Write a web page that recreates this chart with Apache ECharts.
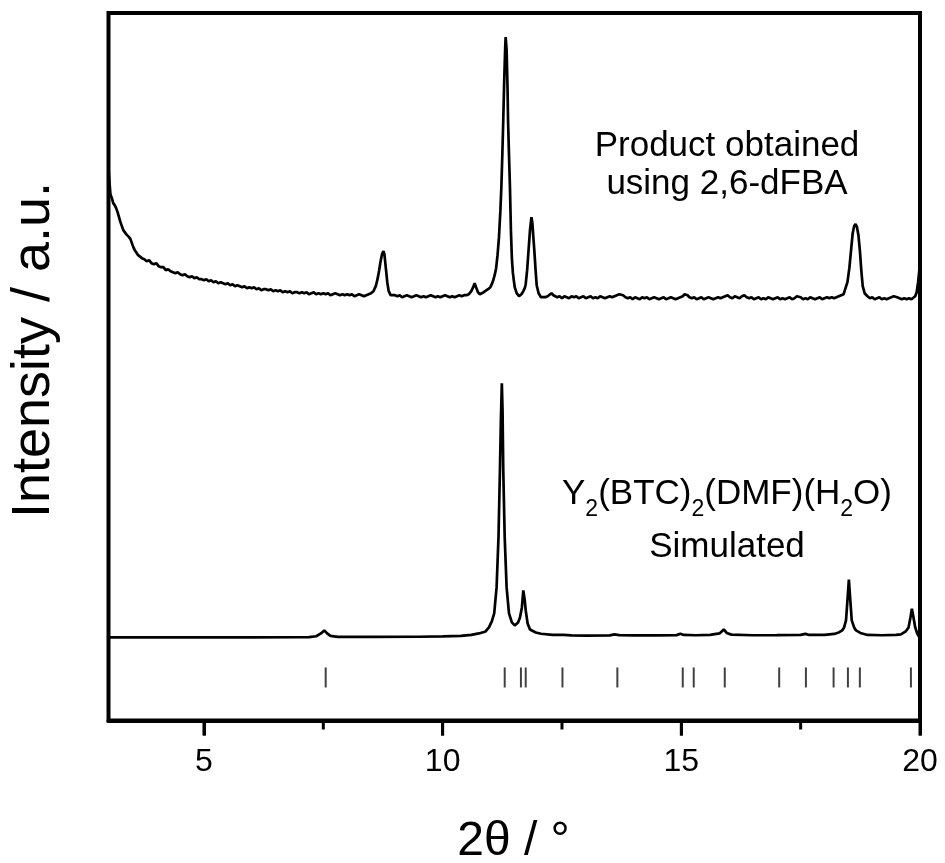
<!DOCTYPE html>
<html>
<head>
<meta charset="utf-8">
<script src="https://cdn.jsdelivr.net/npm/echarts@6/dist/echarts.min.js"></script>
<style>
  html, body { margin: 0; padding: 0; background: #fff; }
  #chart { width: 945px; height: 863px; }
</style>
</head>
<body>
<div id="chart"></div>
<script>
// Measured powder pattern (2θ in degrees, intensity in arbitrary units, offset upwards)
const measuredPattern = [
  [3.00,552],[3.02,538],[3.04,526],[3.07,522],[3.10,517],[3.13,515],[3.16,512],[3.19,508],[3.22,503],[3.25,498],
  [3.28,494],[3.31,490],[3.34,488],[3.37,486],[3.40,485],[3.43,483],[3.46,481],[3.49,477],[3.52,473],[3.55,470],
  [3.58,468],[3.62,465],[3.66,464],[3.70,462],[3.75,461],[3.80,459],[3.85,460],[3.90,457],[3.95,456],[4.00,457],
  [4.05,454],[4.10,453],[4.15,453],[4.20,450],[4.25,451],[4.30,449],[4.35,448],[4.40,447],[4.45,448],[4.50,446],
  [4.55,445],[4.60,446],[4.65,444],[4.70,443],[4.75,444],[4.80,442],[4.85,443],[4.90,441],[4.95,441],[5.00,440],
  [5.05,441],[5.10,439],[5.15,440],[5.20,438],[5.25,439],[5.30,437],[5.35,438],[5.40,437],[5.45,436],[5.50,437],
  [5.55,435],[5.60,436],[5.65,434],[5.70,435],[5.75,434],[5.80,433],[5.85,434],[5.90,432],[5.95,433],[6.00,432],
  [6.05,433],[6.10,431],[6.15,432],[6.20,430],[6.25,431],[6.30,431],[6.35,430],[6.40,431],[6.45,429],[6.50,430],
  [6.55,429],[6.60,430],[6.65,428],[6.70,429],[6.75,428],[6.80,429],[6.85,427],[6.90,428],[6.95,428],[7.00,427],
  [7.05,428],[7.10,427],[7.15,428],[7.20,426],[7.25,427],[7.30,428],[7.35,426],[7.40,427],[7.45,426],[7.50,427],
  [7.55,426],[7.60,427],[7.65,425],[7.70,426],[7.75,427],[7.80,426],[7.85,425],[7.90,426],[7.95,425],[8.00,426],
  [8.05,425],[8.10,426],[8.15,424],[8.20,425],[8.25,426],[8.30,425],[8.35,424],[8.40,425],[8.45,426],[8.50,427],
  [8.55,429],[8.60,434],[8.64,442],[8.67,450],[8.70,459],[8.73,466],[8.76,469],[8.78,466],[8.81,452],[8.84,438],
  [8.87,429],[8.91,425],[8.95,424],[9.00,425],[9.05,424],[9.10,425],[9.15,423],[9.20,424],[9.25,425],[9.30,424],
  [9.35,423],[9.40,424],[9.45,425],[9.50,424],[9.55,423],[9.60,424],[9.65,423],[9.70,424],[9.75,425],[9.80,424],
  [9.85,423],[9.90,424],[9.95,423],[10.00,424],[10.05,425],[10.10,424],[10.15,423],[10.20,424],[10.25,423],[10.30,424],
  [10.35,425],[10.40,424],[10.45,425],[10.50,425],[10.55,426],[10.60,429],[10.64,433],[10.67,437],[10.70,433],[10.74,428],
  [10.78,426],[10.82,427],[10.86,428],[10.90,429],[10.95,431],[11.00,433],[11.03,436],[11.06,440],[11.09,445],[11.12,452],
  [11.15,465],[11.18,483],[11.21,510],[11.23,533],[11.25,565],[11.27,600],[11.29,640],[11.31,672],[11.32,683],[11.34,670],
  [11.36,630],[11.37,600],[11.39,565],[11.41,533],[11.43,490],[11.45,462],[11.47,448],[11.49,440],[11.51,433],[11.55,427],
  [11.60,424],[11.65,426],[11.69,429],[11.72,432],[11.74,436],[11.77,450],[11.80,470],[11.83,490],[11.86,503],[11.88,497],
  [11.90,483],[11.92,470],[11.95,448],[11.97,435],[12.01,427],[12.06,423],[12.10,424],[12.15,423],[12.20,424],[12.24,425],
  [12.28,427],[12.32,425],[12.36,424],[12.40,423],[12.45,424],[12.50,422],[12.55,424],[12.60,423],[12.65,422],[12.70,424],
  [12.75,423],[12.80,424],[12.85,422],[12.90,423],[12.95,424],[13.00,422],[13.05,423],[13.10,424],[13.15,422],[13.20,423],
  [13.25,422],[13.30,424],[13.35,423],[13.40,422],[13.45,423],[13.50,424],[13.55,423],[13.60,424],[13.65,425],[13.70,426],
  [13.74,427],[13.78,425],[13.83,423],[13.88,422],[13.93,423],[13.98,421],[14.03,423],[14.08,422],[14.13,421],[14.18,423],
  [14.23,422],[14.28,423],[14.33,421],[14.38,422],[14.43,423],[14.48,422],[14.53,421],[14.58,422],[14.63,423],[14.68,421],
  [14.73,422],[14.78,423],[14.83,422],[14.88,421],[14.93,422],[14.98,423],[15.03,424],[15.07,426],[15.10,427],[15.13,425],
  [15.17,423],[15.22,422],[15.27,423],[15.32,421],[15.37,422],[15.42,423],[15.47,421],[15.52,422],[15.57,423],[15.62,422],
  [15.67,421],[15.72,422],[15.77,423],[15.82,422],[15.87,423],[15.92,424],[15.97,425],[16.02,423],[16.07,422],[16.12,424],
  [16.17,423],[16.22,422],[16.27,424],[16.32,425],[16.37,423],[16.42,422],[16.47,423],[16.52,421],[16.57,422],[16.62,423],
  [16.67,421],[16.72,422],[16.77,421],[16.82,423],[16.87,422],[16.92,421],[16.97,422],[17.02,423],[17.07,421],[17.12,422],
  [17.17,421],[17.22,422],[17.27,423],[17.32,421],[17.37,422],[17.42,424],[17.46,425],[17.50,423],[17.55,421],[17.60,422],
  [17.65,421],[17.70,423],[17.75,422],[17.80,421],[17.85,422],[17.90,423],[17.95,421],[18.00,422],[18.05,423],[18.10,422],
  [18.15,423],[18.20,422],[18.25,423],[18.30,424],[18.35,425],[18.40,426],[18.44,432],[18.48,438],[18.52,452],[18.56,472],
  [18.59,487],[18.62,494],[18.65,496],[18.68,493],[18.71,485],[18.74,470],[18.77,450],[18.80,434],[18.84,427],[18.90,424],
  [18.95,422],[19.00,423],[19.05,421],[19.10,422],[19.15,423],[19.20,421],[19.25,422],[19.30,421],[19.35,422],[19.40,423],
  [19.45,424],[19.48,425],[19.52,423],[19.57,422],[19.62,421],[19.67,422],[19.72,421],[19.77,422],[19.82,421],[19.86,422],
  [19.90,424],[19.93,428],[19.96,438],[19.98,447],[20.00,458]
];

// Simulated pattern for Y2(BTC)2(DMF)(H2O)
const simulatedPattern = [
  [3.00,83.0],[4.00,83.0],[5.00,83.0],[6.00,83.1],[7.00,83.2],[7.20,83.4],[7.35,84.2],[7.45,87.0],[7.52,90.0],[7.58,87.0],
  [7.65,84.5],[7.80,83.5],[8.50,83.5],[9.50,83.7],[10.00,84.0],[10.38,84.5],[10.60,85.5],[10.76,87.0],[10.90,89.0],[10.97,93.0],
  [11.03,99.0],[11.08,107.0],[11.13,133.0],[11.17,183.0],[11.20,250.0],[11.22,300.0],[11.24,337.0],[11.255,310.0],[11.27,250.0],[11.30,183.0],
  [11.34,133.0],[11.39,107.0],[11.45,98.0],[11.51,95.0],[11.58,98.0],[11.62,103.0],[11.66,113.0],[11.69,130.0],[11.72,120.0],[11.74,110.0],
  [11.78,97.0],[11.83,91.0],[11.95,88.0],[12.06,86.7],[12.30,85.5],[12.44,85.6],[12.48,87.2],[12.53,85.6],[12.70,85.1],[13.00,84.9],
  [13.50,85.0],[13.60,86.0],[13.64,86.8],[13.70,85.3],[14.00,85.0],[14.50,85.0],[14.90,85.3],[14.98,86.6],[15.05,85.5],[15.30,85.2],
  [15.60,85.5],[15.80,87.0],[15.89,91.0],[15.95,87.5],[16.05,85.8],[16.50,85.2],[17.00,85.3],[17.50,85.5],[17.60,86.6],[17.68,85.5],
  [18.00,85.5],[18.20,86.5],[18.30,88.0],[18.37,90.0],[18.41,93.0],[18.45,100.0],[18.48,120.0],[18.51,140.7],[18.54,120.0],[18.57,100.0],
  [18.62,93.0],[18.66,90.0],[18.75,87.5],[18.90,85.5],[19.20,85.2],[19.50,85.5],[19.60,86.0],[19.70,89.0],[19.76,93.0],[19.80,103.0],
  [19.83,111.7],[19.86,104.0],[19.90,93.0],[19.94,87.0],[20.00,82.0]
];

// Calculated reflection positions (2θ), drawn as short bars under the simulated pattern
const reflectionAngles = [7.55, 11.30, 11.64, 11.74, 12.51, 13.66, 15.03, 15.26, 15.91, 17.05, 17.61, 18.19, 18.49, 18.74, 19.81];
const reflectionLevel = 43;

// Axis ticks
const xMajorTicks = [5, 10, 15, 20];
const xMinorTicks = [7.5, 12.5, 17.5];

const FONT = '"Liberation Sans", Arial, Helvetica, sans-serif';

const chart = echarts.init(document.getElementById('chart'), null, { renderer: 'canvas' });

const textGraphics = [
  {
    type: 'text', x: 34, y: 350, rotation: Math.PI / 2,
    style: { text: 'Intensity / a.u.', fontFamily: FONT, fontSize: 54,
             fill: '#000', align: 'center', verticalAlign: 'middle' }
  },
  {
    type: 'text', x: 513.5, y: 842,
    style: { text: '2θ / °', fontFamily: FONT, fontSize: 48,
             fill: '#000', align: 'center', verticalAlign: 'middle' }
  },
  {
    type: 'text', x: 727, y: 127,
    style: { text: 'Product obtained\nusing 2,6-dFBA', fontFamily: FONT, fontSize: 35,
             lineHeight: 38, fill: '#000', align: 'center', verticalAlign: 'top' }
  },
  {
    type: 'text', x: 727, y: 468,
    style: {
      text: '{n|Y}{s|2}{n|(BTC)}{s|2}{n|(DMF)(H}{s|2}{n|O)}\n{n|Simulated}',
      fontFamily: FONT, fontSize: 35, fill: '#000', align: 'center', verticalAlign: 'top',
      rich: {
        n: { fontFamily: FONT, fontSize: 35, lineHeight: 53, fill: '#000' },
        s: { fontFamily: FONT, fontSize: 23, verticalAlign: 'bottom', fill: '#000' }
      }
    }
  }
];

chart.setOption({
  animation: false,
  backgroundColor: '#ffffff',
  grid: {
    left: 108.5, right: 25, top: 13, bottom: 142.5,
    show: true, borderColor: '#000', borderWidth: 4, backgroundColor: 'transparent'
  },
  xAxis: {
    type: 'value', min: 3, max: 20, position: 'bottom',
    axisLine: { show: true, onZero: false, lineStyle: { color: '#000', width: 4 } },
    splitLine: { show: false },
    axisTick: { show: true, inside: false, length: 15, customValues: xMajorTicks,
                lineStyle: { color: '#000', width: 3 } },
    axisLabel: { show: true, customValues: xMajorTicks, margin: 26,
                 fontFamily: FONT, fontSize: 32, color: '#000' }
  },
  yAxis: {
    type: 'value', min: 0, max: 707,
    axisLine: { show: false }, axisTick: { show: false },
    axisLabel: { show: false }, splitLine: { show: false }
  },
  series: [
    {
      name: 'Product obtained using 2,6-dFBA',
      type: 'line', data: measuredPattern,
      showSymbol: false, symbol: 'none', smooth: false,
      lineStyle: { color: '#000', width: 2.7 }, z: 3
    },
    {
      name: 'Y2(BTC)2(DMF)(H2O) Simulated',
      type: 'line', data: simulatedPattern,
      showSymbol: false, symbol: 'none', smooth: false,
      lineStyle: { color: '#000', width: 2.7 }, z: 3
    },
    {
      name: 'Reflections',
      type: 'scatter',
      data: reflectionAngles.map(a => [a, reflectionLevel]),
      symbol: 'rect', symbolSize: [2, 20],
      itemStyle: { color: '#111' }, z: 3
    }
  ],
  graphic: textGraphics
});

// Outward tick marks under the bottom axis, positioned through the x scale
function tickRect(value, length) {
  const p = chart.convertToPixel({ xAxisIndex: 0, yAxisIndex: 0 }, [value, 0]);
  return {
    type: 'rect', z: 100, silent: true,
    shape: { x: p[0] - 1.5, y: p[1], width: 3, height: length },
    style: { fill: '#000' }
  };
}

chart.setOption({
  graphic: textGraphics.concat(
    xMajorTicks.map(v => tickRect(v, 15)),
    xMinorTicks.map(v => tickRect(v, 9))
  )
});
</script>
</body>
</html>
